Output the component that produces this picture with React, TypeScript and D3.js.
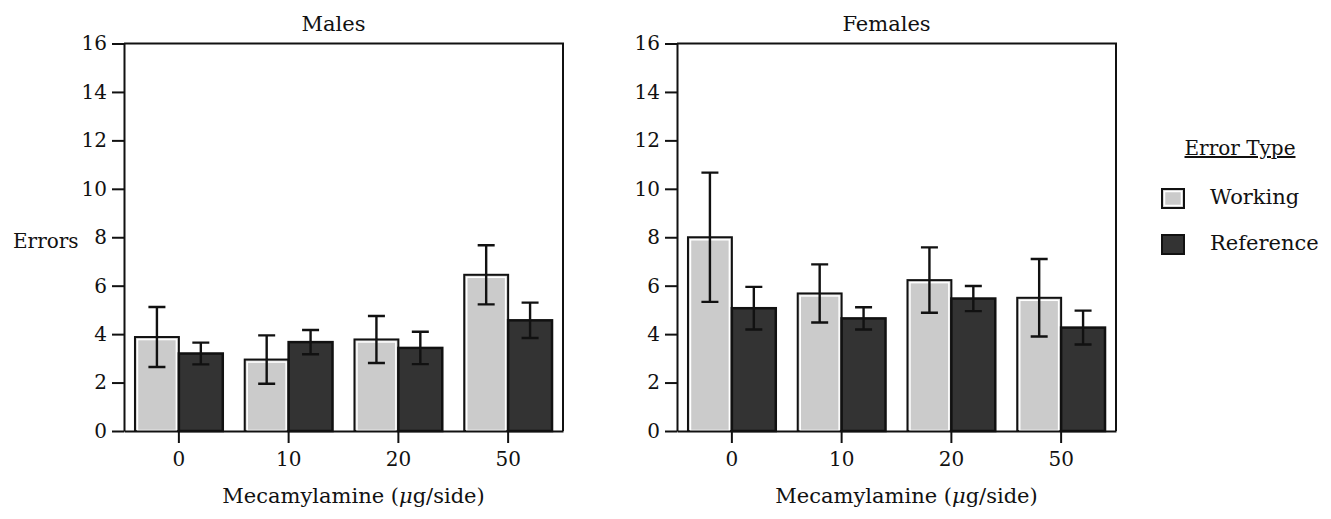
import React, { useEffect, useRef } from 'react';
import * as d3 from 'd3';

// Mecamylamine doses (x categories)
const doses = ['0', '10', '20', '50'];
const yTicks = [0, 2, 4, 6, 8, 10, 12, 14, 16];

// Males: mean errors and SEM
const maleWorking = [3.88, 2.95, 3.78, 6.45];
const maleWorkingSE = [1.24, 1.0, 0.97, 1.22];
const maleReference = [3.2, 3.67, 3.43, 4.57];
const maleReferenceSE = [0.45, 0.5, 0.67, 0.73];

// Females: mean errors and SEM
const femaleWorking = [8.0, 5.68, 6.23, 5.5];
const femaleWorkingSE = [2.67, 1.2, 1.35, 1.6];
const femaleReference = [5.07, 4.65, 5.47, 4.27];
const femaleReferenceSE = [0.88, 0.46, 0.52, 0.7];

const FONT = 'DejaVu Serif';

const App = () => {
  const ref = useRef<SVGSVGElement>(null);

  useEffect(() => {
    const svg = d3.select(ref.current);
    svg.selectAll('*').remove();

    const panelWidth = 439;
    const top = 43.5;
    const bottom = 431;

    const y = d3.scaleLinear().domain([0, 16]).range([bottom, top]);

    const panels = [
      { title: 'Males', left: 124, working: maleWorking, workingSE: maleWorkingSE, reference: maleReference, referenceSE: maleReferenceSE },
      { title: 'Females', left: 677, working: femaleWorking, workingSE: femaleWorkingSE, reference: femaleReference, referenceSE: femaleReferenceSE },
    ];

    panels.forEach((p, i) => {
      const x = d3
        .scaleBand()
        .domain(doses)
        .range([p.left, p.left + panelWidth])
        .paddingInner(0.2)
        .paddingOuter(0.1);
      const bw = x.bandwidth() / 2;

      const g = svg.append('g');

      // frame: top + right
      g.append('path')
        .attr('d', `M${p.left},${top}H${p.left + panelWidth}V${bottom}`)
        .attr('fill', 'none')
        .attr('stroke', '#111')
        .attr('stroke-width', 2);

      // bars
      doses.forEach((d, j) => {
        const x0 = x(d) as number;
        const yw = y(p.working[j]);
        g.append('rect')
          .attr('x', x0)
          .attr('y', yw)
          .attr('width', bw)
          .attr('height', bottom - yw)
          .attr('fill', '#cbcbcb')
          .attr('stroke', '#111')
          .attr('stroke-width', 2);
        g.append('rect')
          .attr('x', x0 + 2.5)
          .attr('y', yw + 2.5)
          .attr('width', bw - 5)
          .attr('height', bottom - yw - 3)
          .attr('fill', 'none')
          .attr('stroke', '#fff')
          .attr('stroke-width', 1.5);

        const yr = y(p.reference[j]);
        g.append('rect')
          .attr('x', x0 + bw)
          .attr('y', yr)
          .attr('width', bw)
          .attr('height', bottom - yr)
          .attr('fill', '#333333')
          .attr('stroke', '#111')
          .attr('stroke-width', 2.5);
      });

      // error bars
      const errs = [
        ...doses.map((d, j) => ({ cx: (x(d) as number) + bw / 2, m: p.working[j], se: p.workingSE[j] })),
        ...doses.map((d, j) => ({ cx: (x(d) as number) + bw * 1.5, m: p.reference[j], se: p.referenceSE[j] })),
      ];
      g.selectAll('.err')
        .data(errs)
        .enter()
        .append('path')
        .attr('class', 'err')
        .attr('d', (e) => {
          const lo = y(e.m - e.se);
          const hi = y(e.m + e.se);
          return `M${e.cx - 8.5},${lo}H${e.cx + 8.5}M${e.cx},${lo}V${hi}M${e.cx - 8.5},${hi}H${e.cx + 8.5}`;
        })
        .attr('fill', 'none')
        .attr('stroke', '#111')
        .attr('stroke-width', 2.4);

      // axes
      const yAxis = g
        .append('g')
        .attr('transform', `translate(${p.left},0)`)
        .call(d3.axisLeft(y).tickValues(yTicks).tickSize(12).tickSizeOuter(0).tickPadding(5));
      const xAxis = g
        .append('g')
        .attr('transform', `translate(0,${bottom})`)
        .call(d3.axisBottom(x).tickSize(12).tickSizeOuter(0).tickPadding(9));

      [yAxis, xAxis].forEach((a) => {
        a.attr('font-family', FONT).attr('font-size', 20);
        a.selectAll('.domain').attr('stroke', '#111').attr('stroke-width', 2);
        a.selectAll('.tick line').attr('stroke', '#111').attr('stroke-width', 2);
        a.selectAll('.tick text').attr('fill', '#111');
      });

      const cx = p.left + panelWidth / 2;
      g.append('text')
        .attr('x', cx - 10)
        .attr('y', 31)
        .attr('text-anchor', 'middle')
        .attr('font-family', FONT)
        .attr('font-size', 21)
        .attr('fill', '#111')
        .text(p.title);

      const xl = g
        .append('text')
        .attr('x', cx + 10)
        .attr('y', 503)
        .attr('text-anchor', 'middle')
        .attr('font-family', FONT)
        .attr('font-size', 21)
        .attr('fill', '#111');
      xl.append('tspan').text('Mecamylamine (');
      xl.append('tspan').attr('font-style', 'italic').text('\u03BC');
      xl.append('tspan').text('g/side)');

      if (i === 0) {
        g.append('text')
          .attr('x', 13)
          .attr('y', 248)
          .attr('font-family', FONT)
          .attr('font-size', 20)
          .attr('fill', '#111')
          .text('Errors');
      }
    });

    // legend
    const legend = svg.append('g');
    legend
      .append('text')
      .attr('x', 1240)
      .attr('y', 155)
      .attr('text-anchor', 'middle')
      .attr('font-family', FONT)
      .attr('font-size', 20)
      .attr('fill', '#111')
      .style('text-decoration', 'underline')
      .text('Error Type');

    const items = [
      { key: 'Working', fill: '#cbcbcb', y: 189 },
      { key: 'Reference', fill: '#333333', y: 235 },
    ];
    items.forEach((it) => {
      legend
        .append('rect')
        .attr('x', 1162)
        .attr('y', it.y)
        .attr('width', 22)
        .attr('height', 19)
        .attr('fill', it.fill)
        .attr('stroke', '#111')
        .attr('stroke-width', 2);
      if (it.key === 'Working') {
        legend
          .append('rect')
          .attr('x', 1164.5)
          .attr('y', it.y + 2.5)
          .attr('width', 17)
          .attr('height', 14)
          .attr('fill', 'none')
          .attr('stroke', '#fff')
          .attr('stroke-width', 1.5);
      }
      legend
        .append('text')
        .attr('x', 1210)
        .attr('y', it.y + 15)
        .attr('font-family', FONT)
        .attr('font-size', 21)
        .attr('fill', '#111')
        .text(it.key);
    });
  }, []);

  return (
    <svg
      ref={ref}
      width={1331}
      height={519}
      style={{ position: 'absolute', left: 0, top: 0, background: '#fff' }}
    />
  );
};

export default App;
